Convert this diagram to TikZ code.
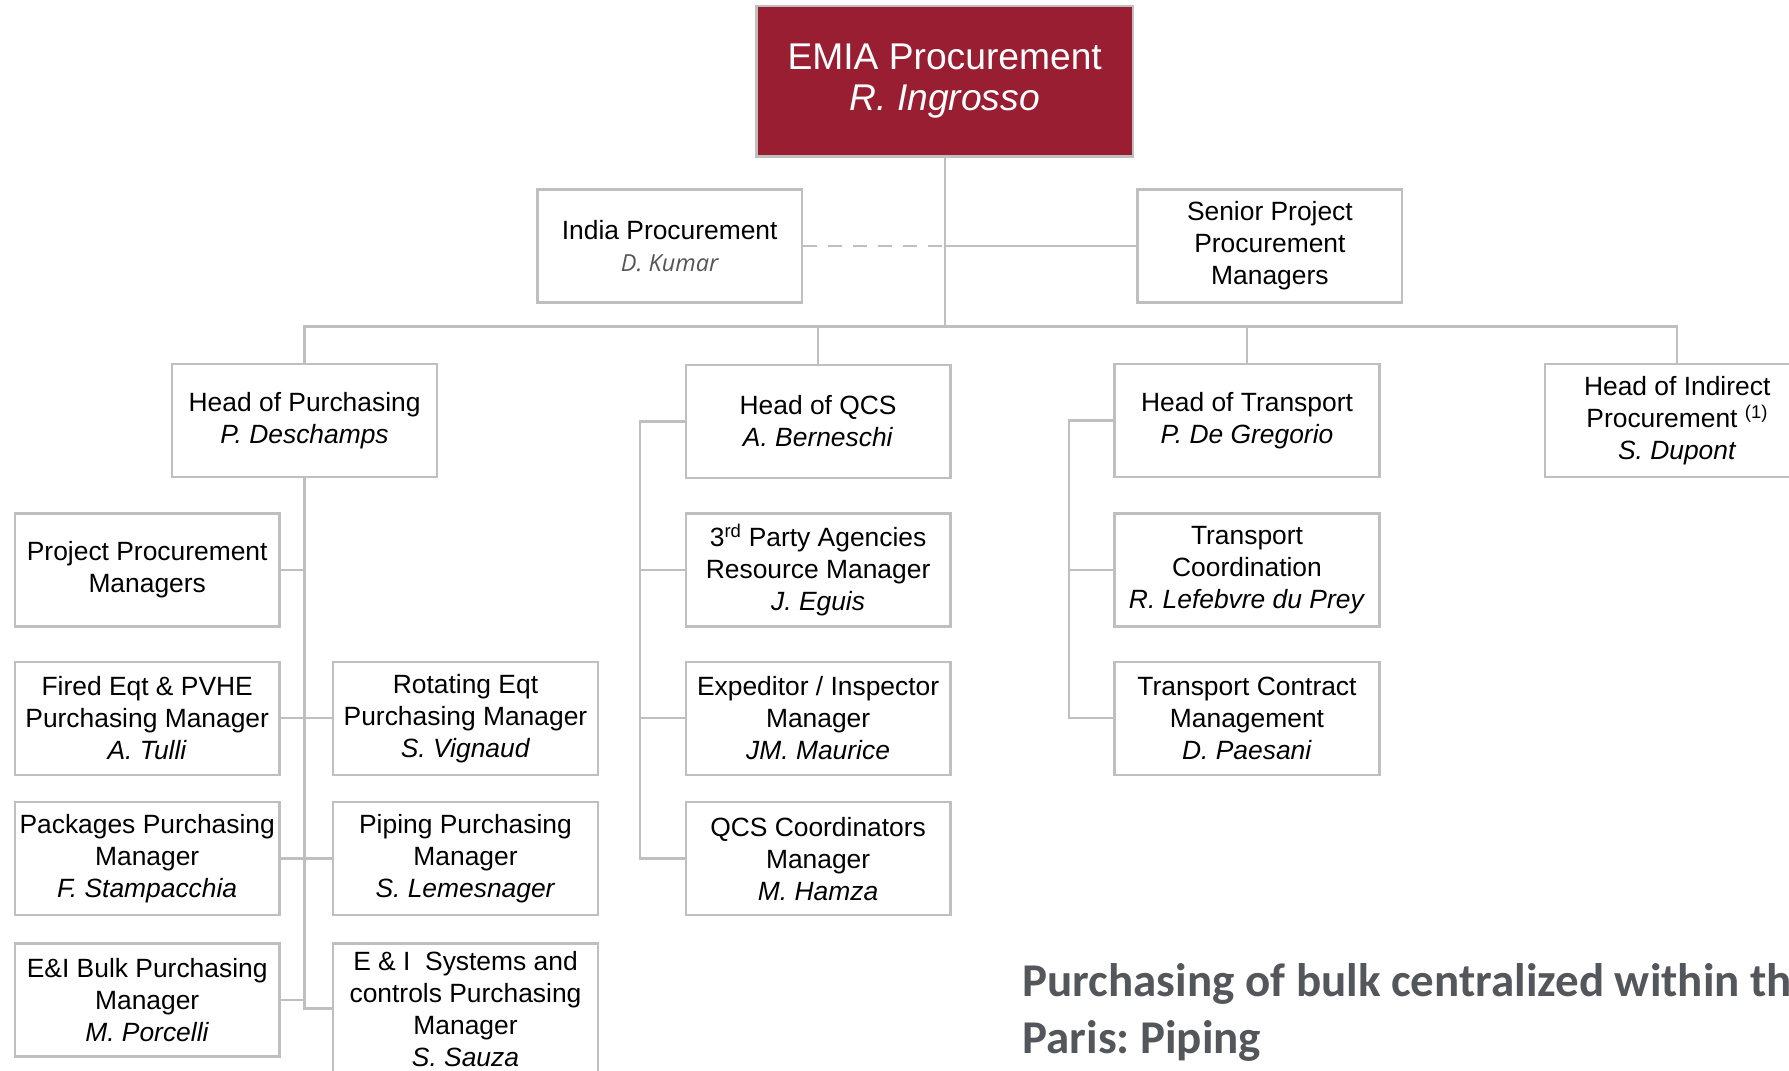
\documentclass[tikz,border=0pt]{standalone}
\usepackage{xcolor}
\usepackage{fontspec}
\setmainfont{Liberation Sans}
\newfontfamily\kumarfont{Open Sans}
\newfontfamily\notefont{Carlito}
\usepackage{tikz}
\usetikzlibrary{calc}
\usetikzlibrary{positioning}
\definecolor{emiared}{HTML}{991E32}
\definecolor{linegray}{HTML}{BFBFBF}
\definecolor{namegray}{HTML}{555555}
\definecolor{notegray}{HTML}{53565A}
\tikzstyle{box} = [draw=linegray, line width=2.4pt, fill=white, minimum width=264.7pt, minimum height=113pt, inner sep=0, align=center, font=\fontsize{26.4}{32}\selectfont]
\tikzstyle{top} = [box, fill=emiared, text=white, minimum width=376.6pt, minimum height=150.6pt, font=\fontsize{37.2}{41}\selectfont]
\tikzstyle{link} = [-, draw=linegray, line width=2.4pt]
\tikzstyle{note} = [draw=none, inner sep=0, align=left, text=notegray, font=\notefont\bfseries\fontsize{47}{57}\selectfont]
\frenchspacing

\begin{document}
\begin{tikzpicture}[x=1pt, y=-1pt]
\useasboundingbox (0,0) rectangle (1789,1071);
\clip (0,0) rectangle (1789,1071);
\node [top] (E) at (944.7, 81) {EMIA Procurement\\\textit{R. Ingrosso}};
\node [box] (IN) at (669.7, 245.9) {India Procurement\\{\kumarfont\itshape\color{namegray}\fontsize{23.5}{32}\selectfont D. Kumar}};
\node [box] (SP) at (1269.9, 245.9) {Senior Project\\Procurement\\Managers};
\coordinate (B) at (944.7, 326.3);
% heads
\node [box] (HP) at (304.6, 420.5) {Head of Purchasing\\\textit{P. Deschamps}};
\node [box] (HQ) at (818.1, 421.5) {Head of QCS\\\textit{A. Berneschi}};
\node [box] (HT) at (1247, 420.5) {Head of Transport\\\textit{P. De Gregorio}};
\node [box] (HI) at (1677.2, 420.5) {Head of Indirect\\Procurement \textsuperscript{(1)}\\\textit{S. Dupont}};
% purchasing
\node [box] (PPM) at (147.2, 569.9) {Project Procurement\\Managers};
\node [box] (FE) at (147.2, 718.2) {Fired Eqt \& PVHE\\Purchasing Manager\\\textit{A. Tulli}};
\node [box] (RE) at (465.5, 718.2) {Rotating Eqt\\Purchasing Manager\\\textit{S. Vignaud}};
\node [box] (PK) at (147.2, 858.6) {Packages Purchasing\\Manager\\\textit{F. Stampacchia}};
\node [box] (PI) at (465.5, 858.6) {Piping Purchasing\\Manager\\\textit{S. Lemesnager}};
\node [box] (EB) at (147.2, 1000) {E\&I Bulk Purchasing\\Manager\\\textit{M. Porcelli}};
\node [box, minimum height=130pt] (ES) at (465.5, 1008.6) {E \& I\ \ Systems and\\controls Purchasing\\Manager\\\textit{S. Sauza}};
% qcs
\node [box] (TP) at (818.1, 569.9) {3\textsuperscript{rd} Party Agencies\\Resource Manager\\\textit{J. Eguis}};
\node [box] (EX) at (818.1, 718.2) {Expeditor / Inspector\\Manager\\\textit{JM. Maurice}};
\node [box] (QC) at (818.1, 858.6) {QCS Coordinators\\Manager\\\textit{M. Hamza}};
% transport
\node [box] (TC) at (1247, 569.9) {Transport\\Coordination\\\textit{R. Lefebvre du Prey}};
\node [box] (TM) at (1247, 718.2) {Transport Contract\\Management\\\textit{D. Paesani}};
\node [note, anchor=base west] (N) at (1022.3, 1053.6) {Purchasing of bulk centralized within the\\Paris: Piping};
\draw [link] (E.south) -- (B);
\draw [link] (E.south |- SP.west) -- (SP.west);
\draw [link, dash pattern=on 14pt off 11pt] (IN.east) -- (E.south |- IN.east);
\draw [link] (B) -| (HP.north);
\draw [link] (B) -| (HQ.north);
\draw [link] (B) -| (HT.north);
\draw [link] (B) -| (HI.north);
\draw [link] (HP.south) |- (PPM.east);
\draw [link] (HP.south) |- (FE.east);
\draw [link] (HP.south) |- (PK.east);
\draw [link] (HP.south) |- (EB.east);
\draw [link] (HP.south) |- (RE.west);
\draw [link] (HP.south) |- (PI.west);
\draw [link] (HP.south) |- (ES.west);
\draw [link] (HQ.west) -| ([xshift=-44.5pt]QC.west) -- (QC.west);
\draw [link] ([xshift=-44.5pt]TP.west) -- (TP.west);
\draw [link] ([xshift=-44.5pt]EX.west) -- (EX.west);
\draw [link] (HT.west) -| ([xshift=-44.5pt]TM.west) -- (TM.west);
\draw [link] ([xshift=-44.5pt]TC.west) -- (TC.west);
\end{tikzpicture}
\end{document}
